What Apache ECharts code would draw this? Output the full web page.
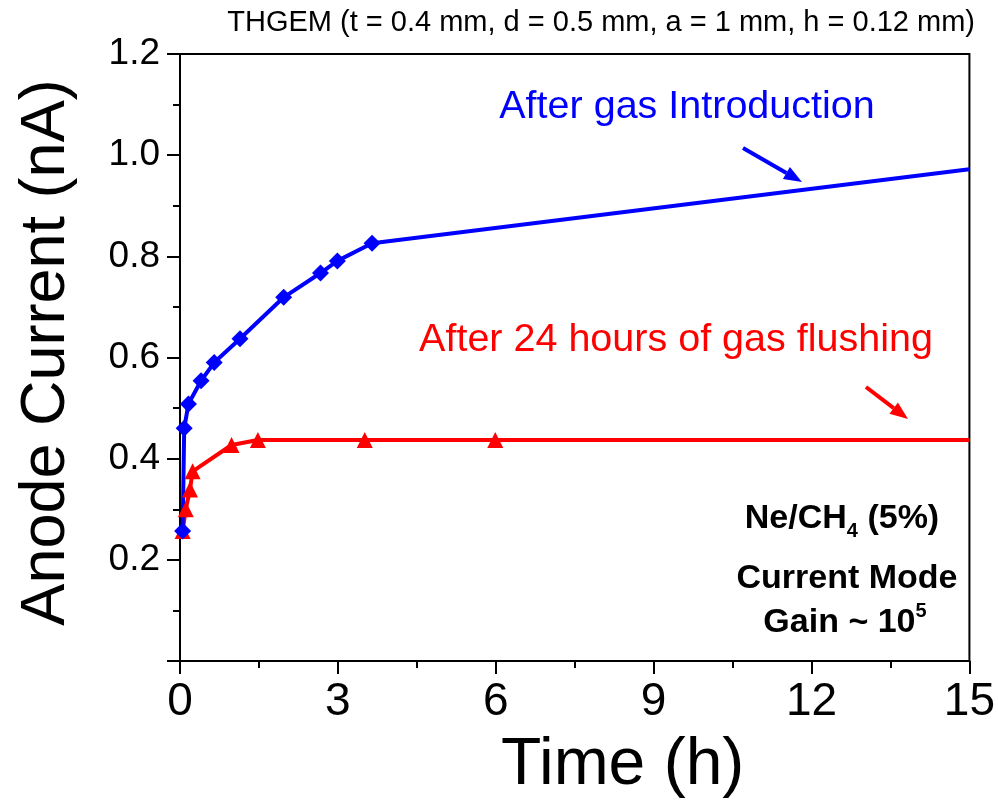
<!DOCTYPE html>
<html>
<head>
<meta charset="utf-8">
<style>
  html, body { margin: 0; padding: 0; background: #fff; overflow: hidden; }
  #chart { width: 998px; height: 804px; }
</style>
<script src="https://cdn.jsdelivr.net/npm/echarts@6/dist/echarts.min.js"></script>
</head>
<body>
<div id="chart"></div>
<script>
// Anode current vs. time for a THGEM in Ne/CH4 (5%)
const blueTime    = [0.05, 0.08, 0.16, 0.40, 0.65, 1.14, 1.97, 2.67, 2.99, 3.65, 15];
const blueCurrent = [0.257, 0.460, 0.508, 0.554, 0.590, 0.637, 0.719, 0.767, 0.791, 0.826, 0.972];
const redTime     = [0.05, 0.11, 0.19, 0.24, 0.98, 1.48, 3.51, 5.99, 15];
const redCurrent  = [0.257, 0.300, 0.339, 0.375, 0.427, 0.437, 0.437, 0.437, 0.437];
const xTicks = [0, 3, 6, 9, 12, 15];
const yTicks = [0.2, 0.4, 0.6, 0.8, 1.0, 1.2];

const ARIAL = "'Liberation Sans', Arial, sans-serif";

// last point of each curve only carries the line out to the axis end
function points(xs, ys) {
  return xs.map((x, i) => i === xs.length - 1
    ? { value: [x, ys[i]], symbol: 'none' }
    : [x, ys[i]]);
}

function arrow(x1, y1, x2, y2, color) {
  const dx = x2 - x1, dy = y2 - y1, len = Math.hypot(dx, dy);
  const ux = dx / len, uy = dy / len, hl = 18, hw = 7;
  const bx = x2 - hl * ux, by = y2 - hl * uy;
  return {
    type: 'group',
    children: [
      { type: 'line', shape: { x1, y1, x2: bx, y2: by },
        style: { stroke: color, lineWidth: 4 } },
      { type: 'polygon',
        shape: { points: [[x2, y2], [bx - hw * uy, by + hw * ux], [bx + hw * uy, by - hw * ux]] },
        style: { fill: color } }
    ]
  };
}

const chart = echarts.init(document.getElementById('chart'), null, { renderer: 'canvas' });

const axisLine = { show: true, lineStyle: { color: '#000', width: 2 } };

chart.setOption({
  animation: false,
  backgroundColor: '#fff',
  grid: { left: 180, right: 27, top: 54, bottom: 140, show: true,
          borderColor: '#000', borderWidth: 2, backgroundColor: 'transparent' },
  xAxis: {
    type: 'value', min: 0, max: 15, interval: 3,
    axisLine,
    axisTick: { show: true, inside: false, length: 13, lineStyle: { color: '#000', width: 2 } },
    minorTick: { show: true, splitNumber: 2, length: 7, lineStyle: { color: '#000', width: 2 } },
    splitLine: { show: false },
    axisLabel: { fontFamily: ARIAL, fontSize: 46, color: '#000', margin: 18,
                 formatter: v => xTicks.includes(v) ? String(v) : '' },
    name: 'Time (h)', nameLocation: 'middle', nameGap: 72,
    nameTextStyle: { fontFamily: ARIAL, fontSize: 66, color: '#000', padding: [0, 0, 0, 96] }
  },
  yAxis: {
    type: 'value', min: 0, max: 1.2, interval: 0.2,
    axisLine,
    axisTick: { show: true, inside: false, length: 13, lineStyle: { color: '#000', width: 2 } },
    minorTick: { show: true, splitNumber: 2, length: 7, lineStyle: { color: '#000', width: 2 } },
    splitLine: { show: false },
    axisLabel: { fontFamily: ARIAL, fontSize: 37, color: '#000', margin: 20,
                 formatter: v => yTicks.some(t => Math.abs(t - v) < 1e-9) ? v.toFixed(1) : '' },
    name: 'Anode Current (nA)', nameLocation: 'middle', nameGap: 102,
    nameTextStyle: { fontFamily: ARIAL, fontSize: 63, color: '#000', padding: [0, 0, 0, 10] }
  },
  series: [
    {
      name: 'After 24 hours of gas flushing', type: 'line',
      data: points(redTime, redCurrent),
      symbol: 'triangle', symbolSize: 16,
      lineStyle: { color: '#ff0000', width: 4 },
      itemStyle: { color: '#ff0000' }
    },
    {
      name: 'After gas Introduction', type: 'line',
      data: points(blueTime, blueCurrent),
      symbol: 'diamond', symbolSize: 17,
      lineStyle: { color: '#0000ff', width: 4 },
      itemStyle: { color: '#0000ff' }
    }
  ],
  graphic: [
    { type: 'text', right: 23, top: 8,
      style: { text: 'THGEM (t = 0.4 mm, d = 0.5 mm, a = 1 mm, h = 0.12 mm)',
               fontFamily: ARIAL, fontSize: 29, fill: '#000' } },
    { type: 'text', x: 687, y: 107,
      style: { text: 'After gas Introduction', fontFamily: ARIAL, fontSize: 39.5,
               fill: '#0000ff', align: 'center', verticalAlign: 'middle' } },
    arrow(743, 148, 802, 182, '#0000ff'),
    { type: 'text', x: 676, y: 340,
      style: { text: 'After 24 hours of gas flushing', fontFamily: ARIAL, fontSize: 39.5,
               fill: '#ff0000', align: 'center', verticalAlign: 'middle' } },
    arrow(866, 387, 908, 419, '#ff0000'),
    { type: 'text', x: 842, y: 519,
      style: { text: 'Ne/CH{sub|4} (5%)', fontFamily: ARIAL, fontSize: 34, fontWeight: 'bold',
               fill: '#000', align: 'center', verticalAlign: 'middle', lineHeight: 44,
               rich: { sub: { fontFamily: ARIAL, fontSize: 20, fontWeight: 'bold', fill: '#000',
                              lineHeight: 20, verticalAlign: 'bottom' } } } },
    { type: 'text', x: 847, y: 579,
      style: { text: 'Current Mode', fontFamily: ARIAL, fontSize: 34, fontWeight: 'bold',
               fill: '#000', align: 'center', verticalAlign: 'middle' } },
    { type: 'text', x: 845, y: 623,
      style: { text: 'Gain ~ 10{sup|5}', fontFamily: ARIAL, fontSize: 34, fontWeight: 'bold',
               fill: '#000', align: 'center', verticalAlign: 'middle', lineHeight: 44,
               rich: { sup: { fontFamily: ARIAL, fontSize: 20, fontWeight: 'bold', fill: '#000',
                              lineHeight: 20, verticalAlign: 'top' } } } }
  ]
});
</script>
</body>
</html>
